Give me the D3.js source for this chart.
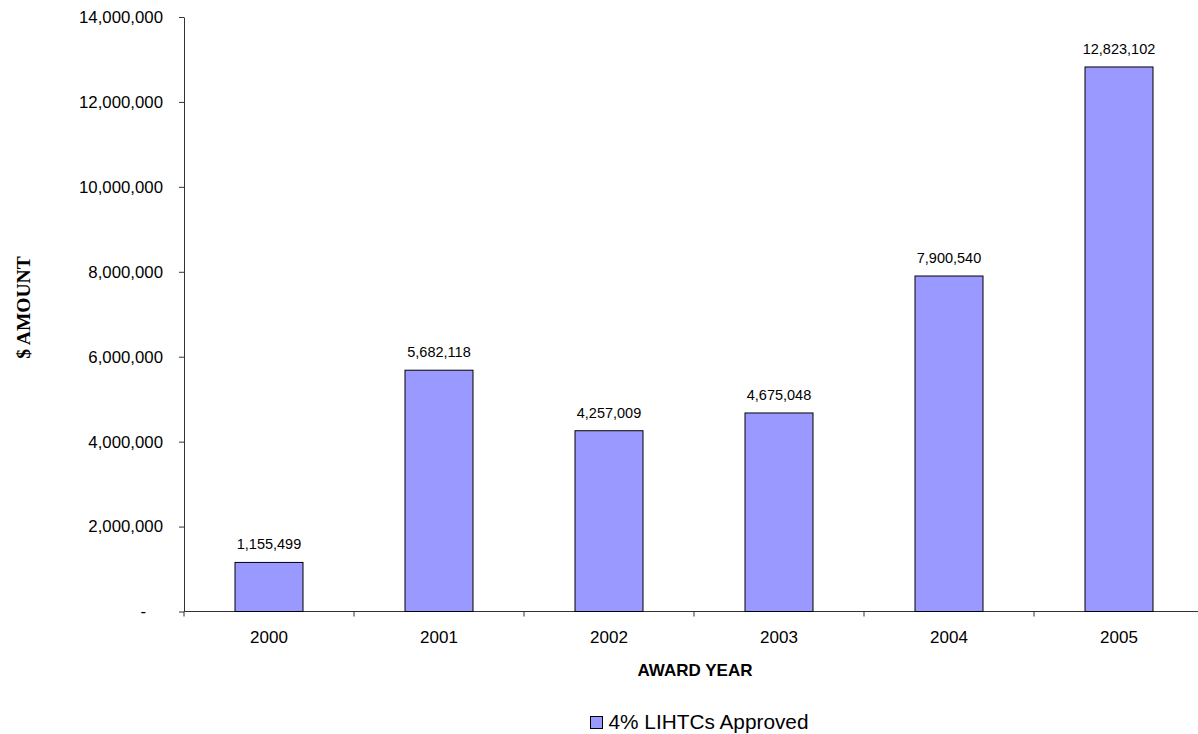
<!DOCTYPE html>
<html>
<head>
<meta charset="utf-8">
<script src="https://cdn.jsdelivr.net/npm/d3@7"></script>
<style>
  body { margin: 0; background: #fff; }
  text { font-family: Arial, "Liberation Sans", sans-serif; }
</style>
</head>
<body>
<div id="chart"></div>
<script>
// data
let years = ["2000", "2001", "2002", "2003", "2004", "2005"];
let amounts = [1155499, 5682118, 4257009, 4675048, 7900540, 12823102];
let yTicks = [0, 2000000, 4000000, 6000000, 8000000, 10000000, 12000000, 14000000];
let seriesName = "4% LIHTCs Approved";

let width = 1198;
let height = 734;
let plotLeft = 184, plotTop = 17, plotBottom = 611.5;
let band = 170;

let svg = d3.select("#chart")
  .append("svg")
  .attr("width", width).attr("height", height);

let xScale = d3.scaleBand()
  .domain(years)
  .range([plotLeft, plotLeft + band * years.length])
  .paddingInner(0.6)
  .paddingOuter(0.3);

let yScale = d3.scaleLinear()
  .domain([0, 14000000])
  .range([plotBottom, plotTop]);

let fmt = d3.format(",");

// y axis
let yAxis = d3.axisLeft(yScale)
  .tickValues(yTicks)
  .tickSize(5)
  .tickSizeOuter(0)
  .tickPadding(16)
  .tickFormat(d => d === 0 ? "-" : fmt(d));

let gy = svg.append("g")
  .attr("transform", `translate(${plotLeft},0)`)
  .call(yAxis);
gy.select(".domain").attr("stroke", "#333");
gy.selectAll(".tick line").attr("stroke", "#333");
gy.selectAll(".tick text")
  .attr("font-size", 16.8)
  .attr("font-family", "Arial, 'Liberation Sans', sans-serif")
  .attr("fill", "#000")
  .attr("dx", d => d === 0 ? -17 : 0);

// x axis (ticks at category boundaries)
svg.append("line")
  .attr("x1", plotLeft).attr("x2", plotLeft + band * years.length)
  .attr("y1", plotBottom).attr("y2", plotBottom)
  .attr("stroke", "#333");

let boundaries = d3.range(years.length + 1).map(i => plotLeft + i * band);
svg.append("g")
  .selectAll("line")
  .data(boundaries)
  .enter()
  .append("line")
  .attr("x1", d => d).attr("x2", d => d)
  .attr("y1", plotBottom).attr("y2", plotBottom + 5)
  .attr("stroke", "#333");

svg.append("g")
  .selectAll("text")
  .data(years)
  .enter()
  .append("text")
  .attr("x", d => xScale(d) + xScale.bandwidth() / 2)
  .attr("y", 643)
  .attr("text-anchor", "middle")
  .attr("font-size", 17)
  .text(d => d);

// bars
let rows = years.map((y, i) => ({year: y, value: amounts[i]}));

svg.append("g")
  .selectAll("rect")
  .data(rows)
  .enter()
  .append("rect")
  .attr("x", d => xScale(d.year))
  .attr("y", d => yScale(d.value))
  .attr("width", xScale.bandwidth())
  .attr("height", d => plotBottom - yScale(d.value))
  .attr("fill", "#9999ff")
  .attr("stroke", "#000")
  .attr("stroke-width", 1);

svg.append("g")
  .selectAll("text")
  .data(rows)
  .enter()
  .append("text")
  .attr("x", d => xScale(d.year) + xScale.bandwidth() / 2)
  .attr("y", d => yScale(d.value) - 13)
  .attr("text-anchor", "middle")
  .attr("font-size", 14.5)
  .text(d => fmt(d.value));

// axis titles
svg.append("text")
  .attr("transform", "translate(29.5,307.5) rotate(-90)")
  .attr("text-anchor", "middle")
  .style("font-family", "'Times New Roman', 'Liberation Serif', serif")
  .attr("font-weight", "bold")
  .attr("font-size", 19.5)
  .text("$ AMOUNT");

svg.append("text")
  .attr("x", 695)
  .attr("y", 676)
  .attr("text-anchor", "middle")
  .attr("font-weight", "bold")
  .attr("font-size", 17)
  .text("AWARD YEAR");

// legend
let lg = svg.append("g").attr("transform", "translate(590.5,716.5)");
lg.append("rect")
  .attr("width", 12).attr("height", 12)
  .attr("fill", "#9999ff").attr("stroke", "#000");
lg.append("text")
  .attr("x", 18).attr("y", 12.5)
  .attr("font-size", 20.8)
  .text(seriesName);
</script>
</body>
</html>
